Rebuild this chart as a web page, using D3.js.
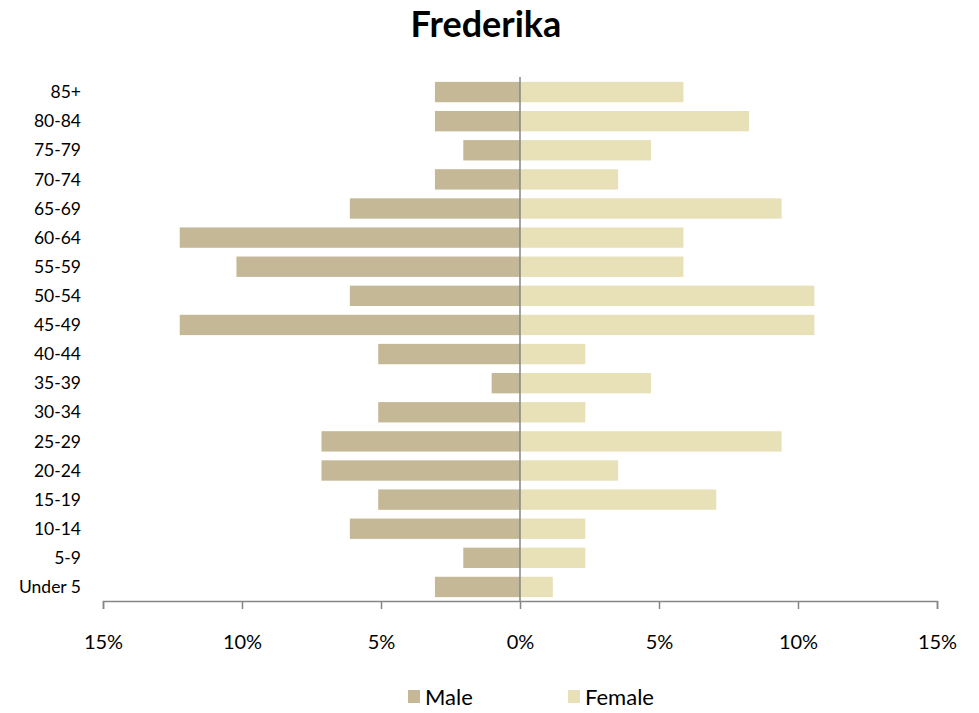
<!DOCTYPE html>
<html>
<head>
<meta charset="utf-8">
<script src="https://cdn.jsdelivr.net/npm/d3@7"></script>
<style>
  body { margin: 0; background: #fff; }
  svg { font-family: Lato, "Open Sans", sans-serif; }
</style>
</head>
<body>
<div id="chart"></div>
<script>
// Data (percent of each sex)
const ageGroups = ["85+", "80-84", "75-79", "70-74", "65-69", "60-64", "55-59", "50-54", "45-49",
                   "40-44", "35-39", "30-34", "25-29", "20-24", "15-19", "10-14", "5-9", "Under 5"];
const male   = [3.06, 3.06, 2.04, 3.06, 6.12, 12.24, 10.20, 6.12, 12.24, 5.10, 1.02, 5.10, 7.14, 7.14, 5.10, 6.12, 2.04, 3.06];
const female = [5.88, 8.24, 4.71, 3.53, 9.41, 5.88, 5.88, 10.59, 10.59, 2.35, 4.71, 2.35, 9.41, 3.53, 7.06, 2.35, 2.35, 1.18];
const xTicks = [-15, -10, -5, 0, 5, 10, 15];
const seriesNames = ["Male", "Female"];
const colors = ["#C4B896", "#E8E1B8"];

const W = 979, H = 713;
const svg = d3.select("#chart").append("svg")
    .attr("width", W).attr("height", H);

const x = d3.scaleLinear().domain([-15, 15]).range([103, 937]);
const y = d3.scaleBand().domain(ageGroups).range([77.5, 601.5]).paddingInner(0.3).paddingOuter(0.15);

// Title
svg.append("text")
    .attr("x", 486).attr("y", 37)
    .attr("text-anchor", "middle")
    .style("font-size", "36px").style("font-weight", "bold")
    .style("fill", "#000")
    .text("Frederika");

// Bars
svg.selectAll("rect.male")
    .data(ageGroups)
    .enter().append("rect")
    .attr("class", "male")
    .attr("x", (d, i) => x(-male[i]))
    .attr("y", d => y(d))
    .attr("width", (d, i) => x(0) - x(-male[i]))
    .attr("height", y.bandwidth())
    .attr("fill", colors[0]);

svg.selectAll("rect.female")
    .data(ageGroups)
    .enter().append("rect")
    .attr("class", "female")
    .attr("x", x(0))
    .attr("y", d => y(d))
    .attr("width", (d, i) => x(female[i]) - x(0))
    .attr("height", y.bandwidth())
    .attr("fill", colors[1]);

// Category labels
svg.selectAll("text.cat")
    .data(ageGroups)
    .enter().append("text")
    .attr("class", "cat")
    .attr("x", 81)
    .attr("y", d => y(d) + y.bandwidth() / 2)
    .attr("dy", "0.35em")
    .attr("text-anchor", "end")
    .style("font-size", "17.5px")
    .style("fill", "#000")
    .text(d => d);

// Vertical zero line
svg.append("line")
    .attr("x1", x(0)).attr("x2", x(0))
    .attr("y1", 77).attr("y2", 601)
    .attr("stroke", "#868686").attr("stroke-width", 1.5);

// X axis
const xAxis = svg.append("g")
    .attr("transform", "translate(0,601)")
    .call(d3.axisBottom(x).tickValues(xTicks).tickSize(8).tickPadding(26)
        .tickFormat(d => Math.abs(d) + "%"));
xAxis.select(".domain").attr("stroke", "#868686").attr("stroke-width", 1.5);
xAxis.selectAll(".tick line").attr("stroke", "#868686").attr("stroke-width", 1.5);
xAxis.selectAll(".tick text")
    .style("font-size", "20px")
    .style("font-family", "Lato, 'Open Sans', sans-serif")
    .attr("fill", "#000");

// Legend
const legend = svg.append("g");
const legendX = [408, 568];
seriesNames.forEach((name, i) => {
    legend.append("rect")
        .attr("x", legendX[i]).attr("y", 690)
        .attr("width", 12).attr("height", 13)
        .attr("fill", colors[i]);
    legend.append("text")
        .attr("x", legendX[i] + 17).attr("y", 697)
        .attr("dy", "0.35em")
        .style("font-size", "22px")
        .style("fill", "#000")
        .text(name);
});
</script>
</body>
</html>
